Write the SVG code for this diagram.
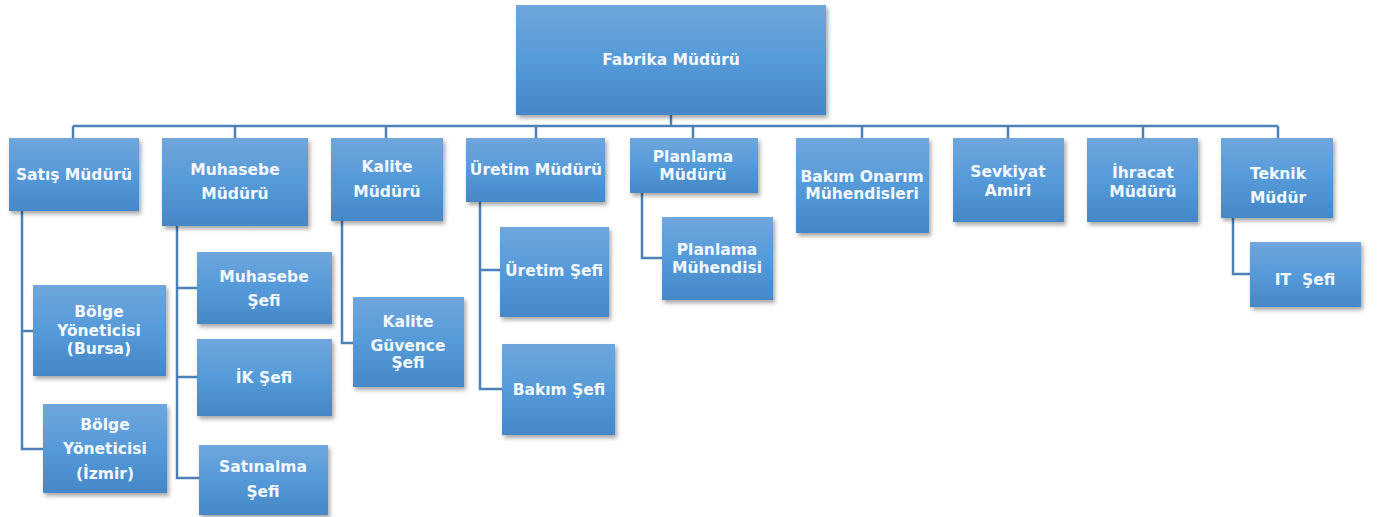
<svg xmlns="http://www.w3.org/2000/svg" width="1377" height="517" viewBox="0 0 1377 517">
<defs>
<linearGradient id="g" x1="0" y1="0" x2="0" y2="1">
<stop offset="0" stop-color="#6fa6dc"/>
<stop offset="0.5" stop-color="#559ad9"/>
<stop offset="1" stop-color="#4587c8"/>
</linearGradient>
<filter id="sh" x="-10%" y="-10%" width="125%" height="130%">
<feDropShadow dx="2" dy="3" stdDeviation="2" flood-color="#000" flood-opacity="0.35"/>
</filter>
</defs>
<style>
.b{fill:url(#g);filter:url(#sh);}
.t{font-family:"DejaVu Sans",Verdana,sans-serif;font-weight:bold;font-size:15.5px;fill:#f4f8fd;text-anchor:middle;white-space:pre;}
.c{fill:none;stroke:#4d7fb8;stroke-width:2.5;}
</style>
<rect width="1377" height="517" fill="#fff"/>
<g id="connectors">
<path class="c" d="M671 115V126M73 126H1278M73 126V138M235 126V138M386 126V138M536 126V138M693 126V138M862 126V138M1008 126V138M1143 126V138M1278 126V138"/>
<path class="c" d="M22 211V449H43M22 331H33"/>
<path class="c" d="M177 226V478H199M177 288H197M177 377H197"/>
<path class="c" d="M342 221V343H353"/>
<path class="c" d="M480 202V389H502M480 270H500"/>
<path class="c" d="M642 193V258H662"/>
<path class="c" d="M1233 218V274H1250"/>
</g>
<g id="n-fabrika"><rect class="b" x="516" y="5" width="310" height="110"/><text class="t" x="671" y="65">Fabrika Müdürü</text></g>
<g id="n-satis"><rect class="b" x="9" y="138" width="130" height="73"/><text class="t" x="74" y="180">Satış Müdürü</text></g>
<g id="n-muhasebe"><rect class="b" x="162" y="138" width="146" height="88"/><text class="t" x="235" y="175">Muhasebe</text><text class="t" x="235" y="199">Müdürü</text></g>
<g id="n-kalite"><rect class="b" x="331" y="138" width="112" height="83"/><text class="t" x="387" y="172">Kalite</text><text class="t" x="387" y="197">Müdürü</text></g>
<g id="n-uretim"><rect class="b" x="466" y="138" width="139" height="64"/><text class="t" x="536" y="175">Üretim Müdürü</text></g>
<g id="n-planlama"><rect class="b" x="630" y="138" width="128" height="55"/><text class="t" x="693" y="162">Planlama</text><text class="t" x="693" y="180">Müdürü</text></g>
<g id="n-bakim-onarim"><rect class="b" x="796" y="138" width="133" height="95"/><text class="t" x="862" y="182">Bakım Onarım</text><text class="t" x="862" y="199">Mühendisleri</text></g>
<g id="n-sevkiyat"><rect class="b" x="953" y="138" width="111" height="84"/><text class="t" x="1008" y="177">Sevkiyat</text><text class="t" x="1008" y="196">Amiri</text></g>
<g id="n-ihracat"><rect class="b" x="1087" y="138" width="111" height="84"/><text class="t" x="1143" y="178">İhracat</text><text class="t" x="1143" y="197">Müdürü</text></g>
<g id="n-teknik"><rect class="b" x="1221" y="138" width="112" height="80"/><text class="t" x="1278" y="179">Teknik</text><text class="t" x="1278" y="203">Müdür</text></g>
<g id="n-bolge-bursa"><rect class="b" x="33" y="285" width="133" height="91"/><text class="t" x="99" y="317">Bölge</text><text class="t" x="99" y="336">Yöneticisi</text><text class="t" x="99" y="354">(Bursa)</text></g>
<g id="n-bolge-izmir"><rect class="b" x="43" y="404" width="124" height="89"/><text class="t" x="105" y="430">Bölge</text><text class="t" x="105" y="454">Yöneticisi</text><text class="t" x="105" y="479">(İzmir)</text></g>
<g id="n-muhasebe-sefi"><rect class="b" x="197" y="252" width="135" height="72"/><text class="t" x="264" y="282">Muhasebe</text><text class="t" x="264" y="306">Şefi</text></g>
<g id="n-ik-sefi"><rect class="b" x="197" y="339" width="135" height="77"/><text class="t" x="264" y="383">İK Şefi</text></g>
<g id="n-satinalma-sefi"><rect class="b" x="199" y="445" width="129" height="70"/><text class="t" x="263" y="472">Satınalma</text><text class="t" x="263" y="497">Şefi</text></g>
<g id="n-kalite-guvence"><rect class="b" x="353" y="297" width="111" height="90"/><text class="t" x="408" y="327">Kalite</text><text class="t" x="408" y="351">Güvence</text><text class="t" x="408" y="368">Şefi</text></g>
<g id="n-uretim-sefi"><rect class="b" x="500" y="227" width="109" height="90"/><text class="t" x="554" y="276">Üretim Şefi</text></g>
<g id="n-bakim-sefi"><rect class="b" x="502" y="344" width="113" height="91"/><text class="t" x="559" y="395">Bakım Şefi</text></g>
<g id="n-planlama-muh"><rect class="b" x="662" y="217" width="111" height="83"/><text class="t" x="717" y="255">Planlama</text><text class="t" x="717" y="273">Mühendisi</text></g>
<g id="n-it-sefi"><rect class="b" x="1250" y="242" width="111" height="65"/><text class="t" x="1305" y="285">IT  Şefi</text></g>
</svg>
